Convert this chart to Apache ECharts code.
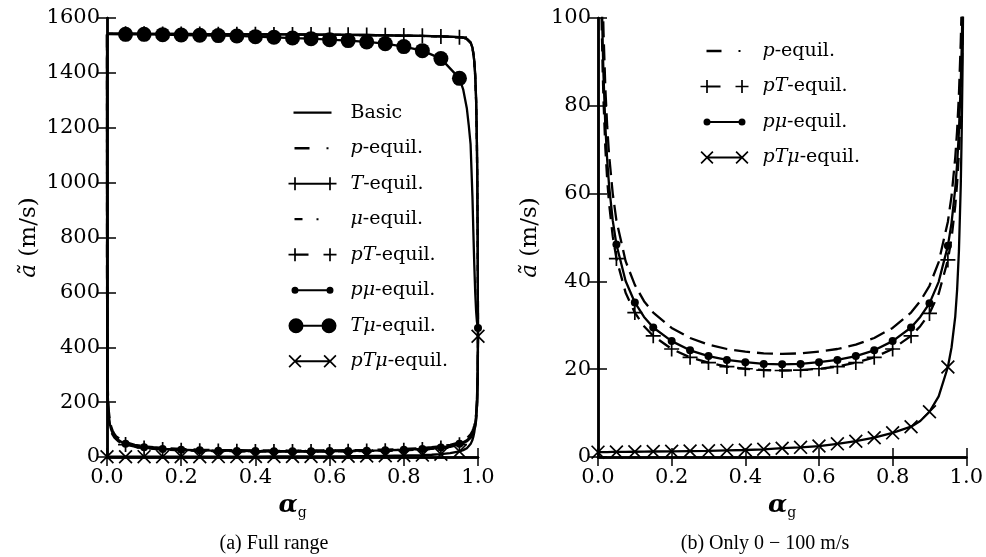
<!DOCTYPE html>
<html><head><meta charset="utf-8">
<script src="https://cdn.jsdelivr.net/npm/echarts@6/dist/echarts.min.js"></script>
<style>html,body{margin:0;padding:0;background:#fff}#c{width:986px;height:557px}</style>
</head><body><div id="c"></div>
<script>
// ---- data ----
const alphaTop = [0, 0.05, 0.1, 0.15, 0.2, 0.25, 0.3, 0.35, 0.4, 0.45, 0.5, 0.55, 0.6, 0.65, 0.7, 0.75, 0.8, 0.85, 0.9, 0.95,
  0.96, 0.97, 0.975, 0.98, 0.985, 0.9875, 0.99, 0.9925, 0.995, 0.997, 0.998, 0.999, 1.0];
const basicVals = [1543, 1543, 1542.5, 1542, 1542, 1541.5, 1541, 1541, 1540.5, 1540, 1540, 1539.5, 1539, 1538.5, 1538, 1537, 1536, 1535, 1533, 1530,
  1528, 1524, 1520, 1511, 1492, 1472, 1442, 1392, 1300, 1150, 1030, 820, 470];
const tEquilVals = [1543, 1543, 1542.5, 1542, 1542, 1541.5, 1541, 1541, 1540.5, 1540, 1540, 1539.5, 1539, 1538.5, 1538, 1537, 1536, 1535, 1533, 1530,
  1528, 1524, 1520, 1511, 1492, 1472, 1442, 1392, 1300, 1150, 1030, 820, 470];
const muEquilVals = [1542.5, 1542.5, 1542, 1541.5, 1541.5, 1541, 1540.5, 1540.5, 1540, 1539.5, 1539.5, 1539, 1538.5, 1538, 1537.5, 1536.5, 1535.5, 1534.5, 1532.5, 1529,
  1527, 1523, 1518, 1509, 1489, 1468, 1437, 1385, 1290, 1140, 1020, 810, 470];
const tMuVals = [1541, 1540.5, 1540.5, 1539.3, 1538, 1537, 1535.8, 1534.6, 1532, 1529.7, 1527, 1524.8, 1521, 1517.6, 1512.7, 1506.6, 1495.7, 1481, 1452, 1380,
  1340, 1270, 1210, 1140, 950, 820, 700, 600, 530, 495, 485, 475, 470];

const alphaLow = [0, 0.0002, 0.0005, 0.001, 0.002, 0.003, 0.005, 0.0075, 0.01, 0.0125, 0.015, 0.02, 0.025, 0.03, 0.04, 0.05, 0.075, 0.1, 0.125, 0.15,
  0.2, 0.25, 0.3, 0.35, 0.4, 0.45, 0.5, 0.55, 0.6, 0.65, 0.7, 0.75, 0.8, 0.85, 0.875, 0.9, 0.925, 0.95, 0.96, 0.97,
  0.975, 0.98, 0.985, 0.9875, 0.99, 0.9925, 0.995, 0.997, 0.998, 0.999, 0.9995, 0.9998, 1.0];
const pEquilVals = [1540, 731, 497, 361, 259, 212, 166, 136, 118, 105.8, 96.7, 83.9, 75.3, 68.9, 60.0, 53.9, 44.6, 39.2, 35.5, 32.9,
  29.4, 27.1, 25.6, 24.6, 24.0, 23.6, 23.5, 23.6, 24.0, 24.6, 25.6, 27.1, 29.4, 32.9, 35.5, 39.0, 44.4, 53.6, 59.5, 68.2,
  74.3, 82.6, 94.7, 103.2, 114.5, 130.8, 157, 195, 229.5, 291, 350, 409, 470];
const pTEquilVals = [1540, 634, 423, 305, 218, 178.6, 139.7, 114.2, 99.0, 88.7, 81.1, 70.3, 63.1, 57.8, 50.3, 45.2, 37.4, 32.9, 29.8, 27.6,
  24.6, 22.7, 21.5, 20.6, 20.1, 19.8, 19.7, 19.8, 20.1, 20.6, 21.5, 22.7, 24.6, 27.6, 29.8, 32.7, 37.2, 44.9, 49.9, 57.2,
  62.3, 69.3, 79.4, 87.1, 96.9, 111, 133.9, 168, 199.5, 259.6, 321, 390, 470];
const pMuEquilVals = [1540, 671, 451, 326, 233, 191, 149, 122, 106, 95, 86.8, 75.3, 67.6, 61.9, 53.9, 48.4, 40.1, 35.2, 31.9, 29.5,
  26.4, 24.3, 23.0, 22.1, 21.6, 21.2, 21.1, 21.2, 21.6, 22.1, 23.0, 24.3, 26.4, 29.5, 31.9, 35.0, 39.9, 48.1, 53.4, 61.2,
  66.7, 74.2, 85.4, 93.1, 103.5, 118.4, 142.6, 178, 211, 272, 333, 398, 470];
const pTMuEquilVals = [1.1, 1.1, 1.1, 1.1, 1.1, 1.1, 1.1, 1.1, 1.1, 1.1, 1.1, 1.1, 1.1, 1.1, 1.15, 1.15, 1.18, 1.2, 1.22, 1.25,
  1.3, 1.35, 1.4, 1.5, 1.6, 1.75, 2.0, 2.2, 2.5, 3.0, 3.6, 4.4, 5.5, 6.9, 8.2, 10.3, 13.8, 20.5, 25, 32,
  38, 47, 62, 74, 90, 115, 155, 210, 250, 320, 375, 415, 440];

const xTicks = ['0.0', '0.2', '0.4', '0.6', '0.8', '1.0'];
const captions = ['(a) Full range', '(b) Only 0 \u2212 100 m/s'];
const seriesNames = ['Basic', 'p-equil.', 'T-equil.', '\u03bc-equil.', 'pT-equil.', 'p\u03bc-equil.', 'T\u03bc-equil.', 'pT\u03bc-equil.'];

// ---- shapes ----
const f = v => +v.toFixed(3);
function rect(x1, y1, x2, y2) { return `M${f(x1)} ${f(y1)}L${f(x2)} ${f(y1)}L${f(x2)} ${f(y2)}L${f(x1)} ${f(y2)}Z`; }
function plus(cx, cy, h, t) { return rect(cx - h, cy - t / 2, cx + h, cy + t / 2) + rect(cx - t / 2, cy - h, cx + t / 2, cy + h); }
function cross(cx, cy, h, d) {
  return `M${f(cx-h+d)} ${f(cy-h)}L${f(cx+h)} ${f(cy+h-d)}L${f(cx+h-d)} ${f(cy+h)}L${f(cx-h)} ${f(cy-h+d)}Z` +
         `M${f(cx+h-d)} ${f(cy-h)}L${f(cx+h)} ${f(cy-h+d)}L${f(cx-h+d)} ${f(cy+h)}L${f(cx-h)} ${f(cy+h-d)}Z`;
}
function circ(cx, cy, r) { return `M${f(cx-r)} ${cy}A${r} ${r} 0 1 1 ${f(cx+r)} ${cy}A${r} ${r} 0 1 1 ${f(cx-r)} ${cy}Z`; }
const anchors = 'M0 8L0.02 8L0.02 8.02ZM48 8L47.98 8L47.98 8.02Z';

const PLUS = 'path://' + plus(7.5, 7.5, 7.5, 1.7);
const CROSS = 'path://' + cross(7, 7, 7, 1.2);

const legendIcons = {
  'Basic': anchors + rect(5, 6.9, 43, 9.1),
  'p-equil.': anchors + rect(6, 6.8, 21, 9.2) + rect(38, 7, 40, 9),
  'T-equil.': rect(6.5, 7, 41.5, 9) + plus(6.5, 8, 6.5, 1.7) + plus(41.5, 8, 6.5, 1.7),
  '\u03bc-equil.': anchors + rect(6, 6.9, 14, 9.1) + rect(28, 7, 30, 9),
  'pT-equil.': rect(6.5, 6.9, 20, 9.1) + plus(6.5, 8, 6.5, 1.7) + plus(41.5, 8, 6.5, 1.7),
  'p\u03bc-equil.': anchors + rect(6.5, 7, 41.5, 9) + circ(6.5, 8, 3.5) + circ(41.5, 8, 3.5),
  'T\u03bc-equil.': rect(7.5, 7, 40.5, 9) + circ(7.5, 8, 7.5) + circ(40.5, 8, 7.5),
  'pT\u03bc-equil.': rect(6.5, 7, 41.5, 9) + cross(6.5, 8, 6.5, 1.2) + cross(41.5, 8, 6.5, 1.2)
};
const italicPart = {
  'Basic': null, 'p-equil.': 'p', 'T-equil.': 'T', '\u03bc-equil.': '\u03bc', 'pT-equil.': 'pT',
  'p\u03bc-equil.': 'p\u03bc', 'T\u03bc-equil.': 'T\u03bc', 'pT\u03bc-equil.': 'pT\u03bc'
};

const styles = {
  'Basic': { dash: 'solid' },
  'p-equil.': { dash: [16, 7] },
  'T-equil.': { dash: 'solid', symbol: PLUS, size: 15, lo: 0.05, hi: 0.95 },
  '\u03bc-equil.': { dash: [6, 6] },
  'pT-equil.': { dash: [13, 8], symbol: PLUS, size: 15, lo: 0.05, hi: 0.95 },
  'p\u03bc-equil.': { dash: 'solid', symbol: 'circle', size: 8, lo: 0.05, hi: 1.0 },
  'T\u03bc-equil.': { dash: 'solid', symbol: 'circle', size: 15, lo: 0.05, hi: 0.95 },
  'pT\u03bc-equil.': { dash: 'solid', symbol: CROSS, size: 14, lo: 0.0, hi: 1.0 }
};
const seriesData = {
  'Basic': [alphaTop, basicVals], 'p-equil.': [alphaLow, pEquilVals], 'T-equil.': [alphaTop, tEquilVals],
  '\u03bc-equil.': [alphaTop, muEquilVals], 'pT-equil.': [alphaLow, pTEquilVals], 'p\u03bc-equil.': [alphaLow, pMuEquilVals],
  'T\u03bc-equil.': [alphaTop, tMuVals], 'pT\u03bc-equil.': [alphaLow, pTMuEquilVals]
};

function makeSeries(name, g) {
  const st = styles[name];
  const [xs, ys] = seriesData[name];
  const data = xs.map((a, i) => {
    const onGrid = Math.abs(a * 20 - Math.round(a * 20)) < 1e-6;
    const mark = st.symbol && onGrid && a >= st.lo - 1e-9 && a <= st.hi + 1e-9;
    return mark ? { value: [a, ys[i]] } : { value: [a, ys[i]], symbol: 'none' };
  });
  return {
    type: 'line', name, xAxisIndex: g * 2, yAxisIndex: g * 2, data,
    symbol: st.symbol || 'none', symbolSize: st.size || 0, showSymbol: !!st.symbol,
    lineStyle: { color: '#000', width: 2.3, type: st.dash, cap: 'butt' },
    itemStyle: { color: '#000', borderWidth: 0 },
    emphasis: { disabled: true }, silent: true, clip: true, animation: false
  };
}

const FONT = 'DejaVu Serif';
const axisLineStyle = { show: true, lineStyle: { color: '#000', width: 2.5 } };
const tickStyle = { show: true, inside: true, length: 9, lineStyle: { color: '#000', width: 1.5 } };

function xAxes(g) {
  return [
    { type: 'value', gridIndex: g, min: 0, max: 1, interval: 0.2, position: 'bottom',
      axisLine: axisLineStyle, axisTick: tickStyle, splitLine: { show: false },
      axisLabel: { color: '#000', fontFamily: FONT, fontSize: 21, margin: 10,
        formatter: v => xTicks[Math.round(v * 5)] },
      name: '{a|\u03b1}{s|g}', nameLocation: 'middle', nameGap: 20,
      nameTextStyle: { color: '#000', rich: {
        a: { fontFamily: FONT, fontSize: 25, fontWeight: 'bold', fontStyle: 'italic', lineHeight: 30, color: '#000' },
        s: { fontFamily: FONT, fontSize: 14, lineHeight: 14, verticalAlign: 'bottom', color: '#000' } } } },
    { type: 'value', gridIndex: g, min: 0, max: 1, interval: 0.2, position: 'top',
      axisLine: axisLineStyle, axisTick: tickStyle, splitLine: { show: false }, axisLabel: { show: false } }
  ];
}
function yAxes(g, max, interval, gap) {
  return [
    { type: 'value', gridIndex: g, min: 0, max, interval, position: 'left',
      axisLine: axisLineStyle, axisTick: tickStyle, splitLine: { show: false },
      axisLabel: { color: '#000', fontFamily: FONT, fontSize: 21, margin: 7, formatter: v => String(v) },
      name: '{i|\u00e3} (m/s)', nameLocation: 'middle', nameGap: gap,
      nameTextStyle: { color: '#000', fontFamily: FONT, fontSize: 23,
        rich: { i: { fontFamily: FONT, fontSize: 23, fontStyle: 'italic', color: '#000' } } } },
    { type: 'value', gridIndex: g, min: 0, max, interval, position: 'right',
      axisLine: axisLineStyle, axisTick: tickStyle, splitLine: { show: false }, axisLabel: { show: false } }
  ];
}

function legend(names, left, top) {
  return {
    orient: 'vertical', left, top, itemWidth: 48, itemHeight: 16, itemGap: 15.5,
    selectedMode: false, symbolKeepAspect: true,
    itemStyle: { color: '#000', borderWidth: 0 },
    data: names.map(n => ({ name: n, icon: 'path://' + legendIcons[n] })),
    formatter: n => italicPart[n] ? '{i|' + italicPart[n] + '}' + n.slice(italicPart[n].length) : n,
    textStyle: { color: '#000', fontFamily: FONT, fontSize: 19, lineHeight: 20, padding: [0, 0, 0, 9],
      rich: { i: { fontFamily: FONT, fontSize: 19, fontStyle: 'italic', color: '#000', lineHeight: 20 } } }
  };
}

const rightNames = ['p-equil.', 'pT-equil.', 'p\u03bc-equil.', 'pT\u03bc-equil.'];

const option = {
  animation: false,
  backgroundColor: '#fff',
  title: [
    { text: captions[0], left: 269, top: 529, textAlign: 'center',
      textStyle: { color: '#000', fontFamily: 'Liberation Serif', fontSize: 20, fontWeight: 'normal' } },
    { text: captions[1], left: 760, top: 529, textAlign: 'center',
      textStyle: { color: '#000', fontFamily: 'Liberation Serif', fontSize: 20, fontWeight: 'normal' } }
  ],
  grid: [
    { left: 107, right: 508, top: 18, bottom: 100 },
    { left: 598, right: 17, top: 18, bottom: 100 }
  ],
  xAxis: [...xAxes(0), ...xAxes(1)],
  yAxis: [...yAxes(0, 1600, 200, 66), ...yAxes(1, 100, 20, 56)],
  legend: [legend(seriesNames, 283.5, 97.7), legend(rightNames, 695.5, 36)],
  series: [
    ...seriesNames.map(n => makeSeries(n, 0)),
    ...rightNames.map(n => makeSeries(n, 1))
  ]
};

const chart = echarts.init(document.getElementById('c'), null, { renderer: 'canvas' });
chart.setOption(option);
</script>
</body></html>
